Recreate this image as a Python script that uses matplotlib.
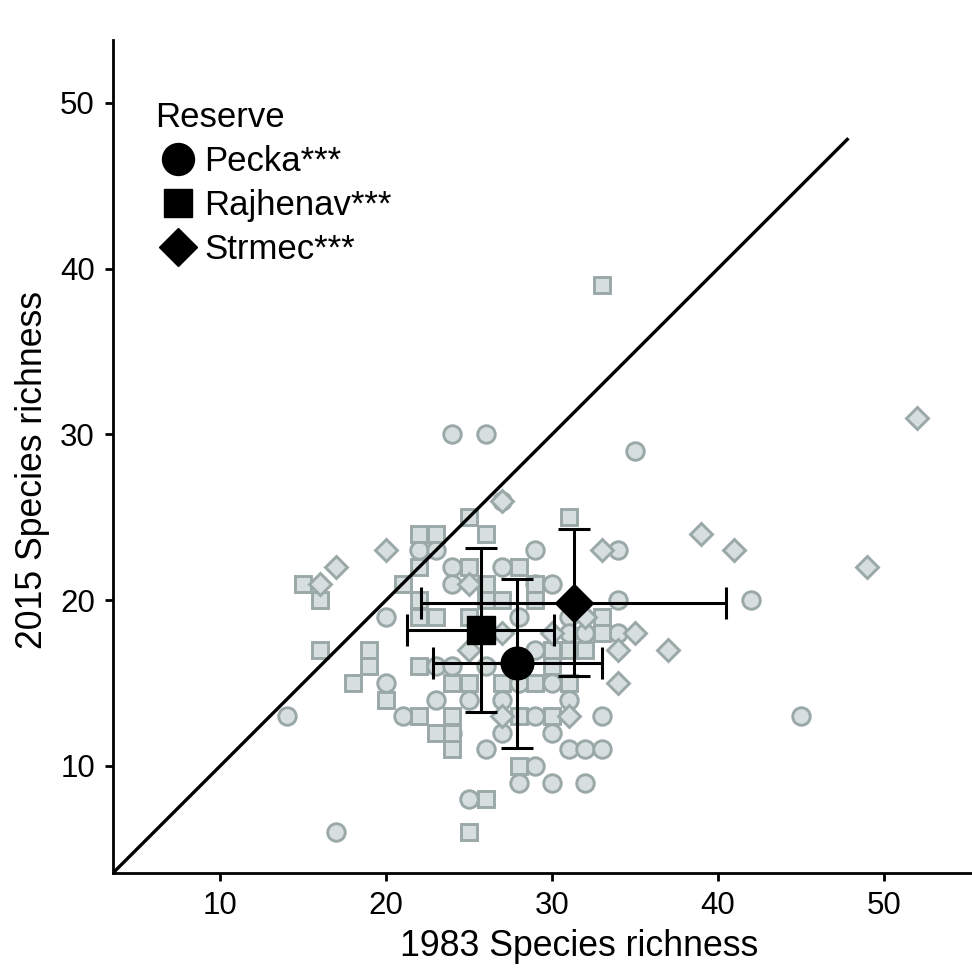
import matplotlib
matplotlib.use("Agg")
import matplotlib.pyplot as plt
from matplotlib.lines import Line2D

plt.rcParams['font.family'] = ['Liberation Sans', 'DejaVu Sans']

# plot-level richness, 1983 vs 2015
pecka_x = [14, 17, 20, 20, 21, 22, 23, 23, 23, 24, 26, 24, 24, 24, 24, 25, 25, 26,
           27, 27, 27, 27, 28, 28, 29, 29, 29, 29, 30, 30, 30, 30, 31, 31, 31, 31,
           32, 32, 33, 33, 34, 34, 34, 35, 42, 45, 26, 28, 29, 32]
pecka_y = [13, 6, 19, 15, 13, 23, 23, 14, 16, 30, 30, 22, 21, 16, 12, 14, 8, 11,
           26, 22, 14, 12, 15, 9, 23, 21, 13, 10, 21, 15, 12, 9, 19, 18, 14, 11,
           11, 9, 13, 11, 23, 20, 18, 29, 20, 13, 16, 19, 17, 18]

rajhenav_x = [15, 16, 16, 18, 19, 19, 20, 21, 22, 23, 22, 22, 22, 23, 22, 22, 23, 24,
              24, 24, 24, 25, 25, 26, 25, 26, 27, 25, 26, 28, 33, 31, 28, 29, 29, 27,
              29, 31, 28, 30, 30, 31, 32, 33, 33, 30, 26, 25]
rajhenav_y = [21, 20, 17, 15, 17, 16, 14, 21, 24, 24, 22, 20, 19, 19, 16, 13, 12, 13,
              11, 15, 12, 15, 25, 24, 22, 21, 20, 6, 8, 10, 39, 25, 22, 21, 20, 15,
              15, 15, 13, 13, 17, 17, 17, 19, 18, 16, 20, 19]

strmec_x = [16, 17, 20, 27, 33, 39, 41, 49, 52, 35, 34, 37, 34, 31, 27, 27, 25, 30,
            32, 25]
strmec_y = [21, 22, 23, 26, 23, 24, 23, 22, 31, 18, 17, 17, 15, 13, 13, 18, 21, 18,
            19, 17]

# reserve means with standard deviations
labels = ['Pecka***', 'Rajhenav***', 'Strmec***']
mean_x = [27.9, 25.7, 31.3]
mean_y = [16.2, 18.2, 19.85]
sd_x = [5.1, 4.45, 9.2]
sd_y = [5.1, 4.95, 4.43]
markers = ['o', 's', 'D']
mean_ms = [23.5, 20, 19.5]
legend_ms = [23, 20.5, 19.5]

identity = [3.54, 47.8]

fill = '#d6dfde'
edge = '#9aa9a8'

fig = plt.figure(figsize=(9.72, 9.73), dpi=100)
ax = fig.add_axes([113 / 972, 100 / 973, 859 / 972, 833 / 973])

for xs, ys, m, ms in [(pecka_x, pecka_y, 'o', 12.6),
                      (rajhenav_x, rajhenav_y, 's', 11.4),
                      (strmec_x, strmec_y, 'D', 11.0)]:
    ax.plot(xs, ys, ls='', marker=m, ms=ms, mfc=fill, mec=edge, mew=2.1, zorder=2)

ax.plot(identity, identity, color='black', lw=2.4, zorder=3)

ax.errorbar(mean_x, mean_y, xerr=sd_x, yerr=sd_y, fmt='none', ecolor='black',
            elinewidth=2.2, capsize=11.5, capthick=2.2, zorder=4)
for i in range(3):
    ax.plot(mean_x[i], mean_y[i], ls='', marker=markers[i], ms=mean_ms[i],
            color='black', zorder=5)

ax.set_xlim(3.54, 55.32)
ax.set_ylim(3.54, 53.8)
ax.set_xticks([10, 20, 30, 40, 50])
ax.set_yticks([10, 20, 30, 40, 50])

for s in ['top', 'right']:
    ax.spines[s].set_visible(False)
for s in ['left', 'bottom']:
    ax.spines[s].set_linewidth(2.0)
ax.tick_params(width=2.0, length=6, labelsize=22.5, colors='black', pad=7)

ax.set_xlabel('1983 Species richness', fontsize=25.7, va='center')
ax.set_ylabel('2015 Species richness', fontsize=25.7, va='center')
ax.xaxis.set_label_coords((579 - 113) / 859, (873 - 946) / 833)
ax.yaxis.set_label_coords((33 - 113) / 859, (873 - 470) / 833)

handles = [Line2D([], [], ls='', marker=markers[i], ms=legend_ms[i], color='black')
           for i in range(3)]
ax.legend(handles, labels, title='Reserve', loc='upper left',
          bbox_to_anchor=((155 - 113) / 859, (873 - 101) / 833),
          frameon=False, fontsize=25, title_fontsize=25, alignment='left',
          borderpad=0, borderaxespad=0, handlelength=1.32, handletextpad=0.1,
          labelspacing=0.32, numpoints=1)

fig.savefig('out.png', dpi=100)
